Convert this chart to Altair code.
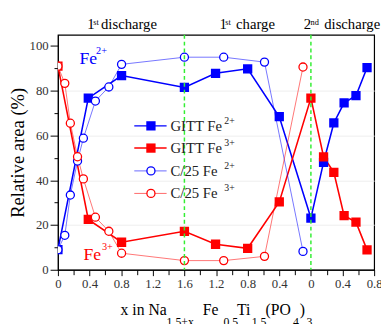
import altair as alt
import pandas as pd

F = "Liberation Serif"

# progress coordinate: 0-1.6 first discharge, 1.6-3.2 first charge, 3.2-4.0 second discharge
gitt_u = [0, 0.384, 0.805, 1.6, 1.994, 2.40, 2.80, 3.20, 3.36, 3.49, 3.62, 3.77, 3.91]
gitt_fe2 = [9, 76.7, 86.8, 81.5, 87.8, 89.8, 68.4, 23.1, 48.0, 65.6, 74.6, 77.8, 90.3]
gitt_fe3 = [91, 22.5, 12.3, 17.2, 11.4, 9.6, 30.3, 76.7, 50.5, 43.5, 24.2, 21.3, 8.9]

c25_u = [0, 0.087, 0.157, 0.248, 0.322, 0.474, 0.644, 0.805, 1.6, 2.097, 2.613, 3.10]
c25_fe2 = [9, 15.4, 33.4, 48.6, 58.8, 75.4, 81.7, 91.8, 95.0, 95.0, 92.8, 8.2]
c25_fe3 = [91, 83.3, 65.5, 50.5, 40.6, 23.5, 17.2, 7.4, 4.1, 4.1, 6.0, 90.6]

phase_bounds = [1.6, 3.2]

x_major = [round(0.4 * i, 1) for i in range(11)]
x_minor = [round(0.2 * i, 1) for i in range(21) if i % 2 == 1]
y_ticks = list(range(0, 101, 10))

series_names = ["GITT Fe2+", "GITT Fe3+", "C/25 Fe2+", "C/25 Fe3+"]
series_colors = ["#0000ff", "#ff0000", "#0000ff", "#ff0000"]

gitt = pd.DataFrame({
    "u": gitt_u + gitt_u,
    "val": gitt_fe2 + gitt_fe3,
    "series": ["GITT Fe2+"] * len(gitt_u) + ["GITT Fe3+"] * len(gitt_u),
})
c25 = pd.DataFrame({
    "u": c25_u + c25_u,
    "val": c25_fe2 + c25_fe3,
    "series": ["C/25 Fe2+"] * len(c25_u) + ["C/25 Fe3+"] * len(c25_u),
})
bounds = pd.DataFrame({"u": phase_bounds})

cscale = alt.Scale(domain=series_names, range=series_colors)
xscale = alt.Scale(domain=[0, 4], nice=False, zero=False)
yscale = alt.Scale(domain=[0, 105], nice=False, zero=False)

x_expr = ("format(abs(datum.value <= 1.61 ? datum.value : "
          "(datum.value <= 3.21 ? 3.2 - datum.value : datum.value - 3.2)), '.1~f')")

xaxis = alt.Axis(values=x_major, labelExpr=x_expr, title=None, tickSize=6, orient="bottom",
                 labelFont=F, labelFontSize=13, labelColor="#333333",
                 labelPadding=2, domainColor="black", tickColor="black",
                 grid=False, labelFlush=False, labelOverlap=False)
xaxis_minor = alt.Axis(values=x_minor, labels=False, title=None, tickSize=5, domain=False,
                       orient="bottom", tickColor="black", grid=False)
yaxis = alt.Axis(values=y_ticks, labelExpr="datum.value % 20 == 0 ? datum.label : ''",
                 title="Relative area (%)", titleFont=F, titleFontSize=19,
                 titleFontWeight="normal", titleColor="black", titlePadding=2,
                 tickSize={"condition": {"test": "datum.value % 20 == 0", "value": 8}, "value": 4},
                 labelFont=F, labelFontSize=13, labelColor="#333333", labelPadding=2,
                 domainColor="black", tickColor="black", grid=True,
                 gridColor={"condition": {"test": "datum.value % 20 == 0 && datum.value > 0 && datum.value < 100",
                                          "value": "#eeeeee"}, "value": "transparent"},
                 labelOverlap=False)

xenc = alt.X("u:Q", scale=xscale, axis=xaxis)
xnone = alt.X("u:Q", scale=xscale, axis=None)
yenc = alt.Y("val:Q", scale=yscale, axis=yaxis)

layers = []
layers.append(alt.Chart(gitt).mark_line(strokeWidth=1.6, clip=True).encode(
    x=xenc, y=yenc, color=alt.Color("series:N", scale=cscale, legend=None)))
layers.append(alt.Chart(c25).mark_line(strokeWidth=1, opacity=0.55, clip=True).encode(
    x=xnone, y=yenc, color=alt.Color("series:N", scale=cscale, legend=None)))
layers.append(alt.Chart(gitt).mark_point(shape="square", filled=True, size=90, opacity=1, clip=True).encode(
    x=xnone, y=yenc, color=alt.Color("series:N", scale=cscale, legend=None)))
layers.append(alt.Chart(c25).mark_point(shape="circle", filled=True, fill="white", size=68, strokeWidth=1.3,
                                        opacity=1, clip=True).encode(
    x=xnone, y=yenc, stroke=alt.Stroke("series:N", scale=cscale, legend=None)))
# phase boundaries; this layer also carries the minor-tick axis (shared scale)
layers.append(alt.Chart(bounds).mark_rule(color="#33ee33", strokeDash=[4, 3], strokeWidth=1.5).encode(
    x=alt.X("u:Q", scale=xscale, axis=xaxis_minor)))

one = pd.DataFrame({"k": [0]})
OX, OY = 59, 32


def txt(s, x, y, size, color="black", baseline="alphabetic"):
    return alt.Chart(one).mark_text(text=s, font=F, fontSize=size, color=color, align="left",
                                    baseline=baseline).encode(x=alt.value(x - OX), y=alt.value(y - OY))


# phase titles
layers += [txt("1", 89, 25.7, 15), txt("st", 95, 21.5, 8.5), txt("discharge", 103, 25.7, 15),
           txt("1", 224, 25.7, 15), txt("st", 230, 21.5, 8.5), txt("charge", 241, 25.7, 15),
           txt("2", 310, 25.7, 15), txt("nd", 317, 21.5, 8.5), txt("discharge", 331, 25.7, 15)]

# ion labels
layers += [txt("Fe", 81, 62, 18, "#0000ff"), txt("2+", 98, 52, 10.5, "#0000ff"),
           txt("Fe", 85, 261.7, 18, "#ff0000"), txt("3+", 104, 251.5, 10.5, "#ff0000")]

# x-axis title
layers += [txt("x in Na", 123, 318, 16), txt("1.5+x", 170, 329, 12), txt("Fe", 207, 318, 16),
           txt("0.5", 228, 329, 12), txt("Ti", 242, 318, 16), txt("1.5", 257, 329, 12),
           txt("(PO", 271, 318, 16), txt("4", 299, 329, 12), txt(")", 306, 318, 16),
           txt("3", 313, 329, 12)]

# legend
leg_rows = [("GITT ", "2+", "#0000ff", "square", True, 125),
            ("GITT ", "3+", "#ff0000", "square", True, 147.7),
            ("C/25 ", "2+", "#0000ff", "circle", False, 171),
            ("C/25 ", "3+", "#ff0000", "circle", False, 194)]
for lab, sup, col, shp, filled, yy in leg_rows:
    layers.append(alt.Chart(one).mark_rule(color=col, strokeWidth=1.5 if filled else 1,
                                           opacity=1 if filled else 0.6).encode(
        x=alt.value(137 - OX), x2=alt.value(170 - OX), y=alt.value(yy - OY)))
    if filled:
        layers.append(alt.Chart(one).mark_point(shape=shp, filled=True, size=90, color=col, opacity=1).encode(
            x=alt.value(154 - OX), y=alt.value(yy - OY)))
    else:
        layers.append(alt.Chart(one).mark_point(shape=shp, filled=True, fill="white", stroke=col, size=68,
                                                strokeWidth=1.3, opacity=1).encode(
            x=alt.value(154 - OX), y=alt.value(yy - OY)))
    layers.append(txt(lab + "Fe", 174, yy + 5, 15, "#222222"))
    layers.append(txt(sup, 229, yy - 2, 10, "#222222"))

chart = alt.layer(*layers).resolve_scale(x="shared").resolve_axis(x="independent").properties(
    width=323, height=240,
    autosize=alt.AutoSizeParams(type="none"),
    padding={"left": 51, "top": 24, "right": 7, "bottom": 52},
).configure_view(stroke="black", strokeWidth=1.2).configure_axis(labelOverlap=False)

chart.save("out.html", embed_options={"renderer": "svg", "actions": False})
